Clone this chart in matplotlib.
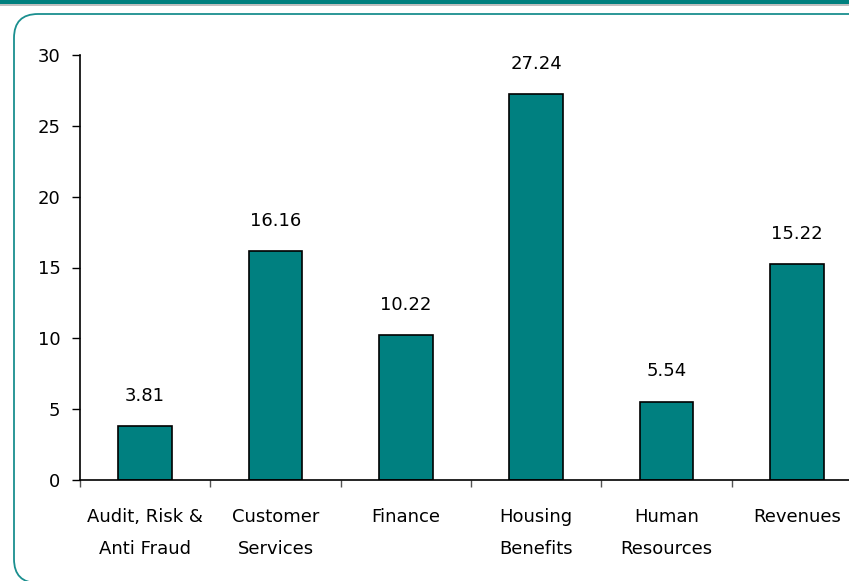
import matplotlib.pyplot as plt
from matplotlib.patches import FancyBboxPatch, Rectangle

departments = ["Audit, Risk &\nAnti Fraud", "Customer\nServices", "Finance",
               "Housing\nBenefits", "Human\nResources", "Revenues"]
values = [3.81, 16.16, 10.22, 27.24, 5.54, 15.22]

TEAL = "#008080"

plt.rcParams["font.family"] = ["DejaVu Sans"]

fig = plt.figure(figsize=(8.49, 5.81), dpi=100)
W, H = 849, 581

# header strip and rounded frame
fig.patches.append(Rectangle((0, 1 - 4 / H), 1, 4 / H, transform=fig.transFigure,
                             facecolor="#00807f", edgecolor="none", zorder=0))
fig.patches.append(Rectangle((0, 1 - 6 / H), 1, 2 / H, transform=fig.transFigure,
                             facecolor="#c0c0c0", edgecolor="none", zorder=0))
fig.patches.append(FancyBboxPatch((14, -2), 900, 569, boxstyle="round,pad=0,rounding_size=24",
                                  transform=None, facecolor="none", edgecolor="#1a8f8f",
                                  linewidth=1.3, zorder=0))

ax = fig.add_axes([80 / W, (H - 480) / H, 782 / W, 425 / H])
x = range(len(values))
ax.bar(x, values, width=0.41, color=TEAL, edgecolor="black", linewidth=1.2, zorder=2)
for i, v in enumerate(values):
    ax.text(i, v + 1.5, f"{v:.2f}", ha="center", va="bottom", fontsize=13)

ax.set_xlim(-0.5, len(values) - 0.5)
ax.set_ylim(0, 30)
ax.set_yticks(range(0, 31, 5))
ax.set_xticks([i + 0.5 for i in range(-1, len(values))], minor=False)
ax.set_xticklabels([])
ax.set_xticks(list(x), minor=True)
ax.set_xticklabels(departments, minor=True, fontsize=13, linespacing=2.0)
ax.tick_params(axis="x", which="minor", length=0, pad=20)
ax.tick_params(axis="x", which="major", length=5, width=1, color="#555555")
ax.tick_params(axis="y", length=6, width=1, labelsize=13, pad=8)
for s in ["top", "right"]:
    ax.spines[s].set_visible(False)
for s in ["left", "bottom"]:
    ax.spines[s].set_linewidth(1.2)
ax.patch.set_alpha(0)

fig.savefig("out.png", dpi=100)
